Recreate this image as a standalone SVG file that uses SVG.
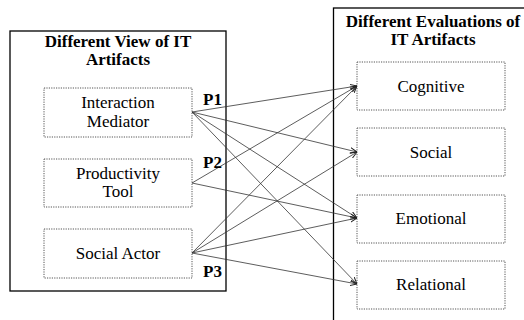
<svg xmlns="http://www.w3.org/2000/svg" width="524" height="320" viewBox="0 0 524 320">
<style>
.outer{fill:#fff;stroke:#000;stroke-width:1.3}
.box{fill:#fff;stroke:#555;stroke-width:1;stroke-dasharray:1.2 1.2}
text{font-family:'Liberation Serif','DejaVu Serif',serif;fill:#000}
.t{font-size:17px;text-anchor:middle}
.b{font-size:17px;font-weight:bold}
.c{fill:none;stroke:#333;stroke-width:0.8;marker-end:url(#ah)}
</style>
<defs>
<marker id="ah" viewBox="0 0 10 10" refX="10" refY="5" markerWidth="7" markerHeight="7" markerUnits="userSpaceOnUse" orient="auto">
<path d="M0,1 L10,5 L0,9" fill="none" stroke="#222" stroke-width="1.4"/>
</marker>
</defs>
<rect width="524" height="320" fill="#fff"/>
<g id="left-group">
<rect class="outer" x="10" y="31" width="216" height="260"/>
<text class="b" x="118" y="47" text-anchor="middle">Different View of IT</text>
<text class="b" x="118" y="65" text-anchor="middle">Artifacts</text>
</g>
<g id="right-group">
<rect class="outer" x="333.5" y="8" width="200" height="320"/>
<text class="b" x="433" y="27" text-anchor="middle">Different Evaluations of</text>
<text class="b" x="433" y="45" text-anchor="middle">IT Artifacts</text>
</g>
<g id="interaction-mediator">
<rect class="box" x="44" y="88" width="148" height="49"/>
<text class="t" x="118" y="108">Interaction</text>
<text class="t" x="118" y="127">Mediator</text>
</g>
<g id="productivity-tool">
<rect class="box" x="44" y="159" width="148" height="48"/>
<text class="t" x="118" y="179">Productivity</text>
<text class="t" x="118" y="197">Tool</text>
</g>
<g id="social-actor">
<rect class="box" x="44" y="229" width="148" height="49"/>
<text class="t" x="118" y="259">Social Actor</text>
</g>
<g id="cognitive">
<rect class="box" x="357" y="62" width="148" height="48"/>
<text class="t" x="431" y="92">Cognitive</text>
</g>
<g id="social">
<rect class="box" x="357" y="128" width="148" height="48"/>
<text class="t" x="431" y="158">Social</text>
</g>
<g id="emotional">
<rect class="box" x="357" y="195" width="148" height="48"/>
<text class="t" x="431" y="224">Emotional</text>
</g>
<g id="relational">
<rect class="box" x="357" y="261" width="148" height="48"/>
<text class="t" x="431" y="290">Relational</text>
</g>
<g id="connectors">
<line class="c" x1="192" y1="112" x2="357" y2="86"/>
<line class="c" x1="192" y1="112" x2="357" y2="152"/>
<line class="c" x1="192" y1="112" x2="357" y2="218"/>
<line class="c" x1="192" y1="112" x2="357" y2="284"/>
<line class="c" x1="192" y1="183" x2="357" y2="86"/>
<line class="c" x1="192" y1="183" x2="357" y2="218"/>
<line class="c" x1="192" y1="253" x2="357" y2="86"/>
<line class="c" x1="192" y1="253" x2="357" y2="152"/>
<line class="c" x1="192" y1="253" x2="357" y2="218"/>
<line class="c" x1="192" y1="253" x2="357" y2="284"/>
</g>
<g id="labels">
<text class="b" x="203" y="105">P1</text>
<text class="b" x="203" y="168">P2</text>
<text class="b" x="203" y="277">P3</text>
</g>
</svg>
